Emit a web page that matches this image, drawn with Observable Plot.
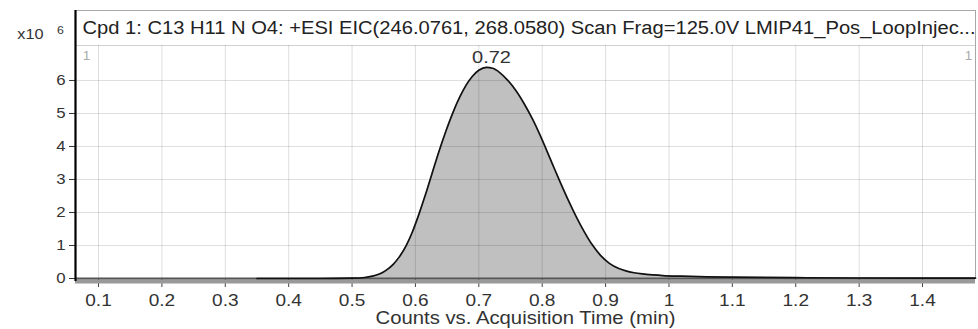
<!DOCTYPE html>
<html>
<head>
<meta charset="utf-8">
<script src="https://cdn.jsdelivr.net/npm/d3@7"></script>
<script src="https://cdn.jsdelivr.net/npm/@observablehq/plot@0.6"></script>
<style>
  html, body { margin: 0; padding: 0; background: #fff; }
  #chart svg { display: block; }
</style>
</head>
<body>
<div id="chart"></div>
<script>
// Acquisition time (min)
const times = [0.35, 0.45, 0.50, 0.52, 0.532, 0.545, 0.553, 0.565, 0.574, 0.585, 0.595, 0.605, 0.616, 0.626, 0.637, 0.648, 0.659, 0.670, 0.680, 0.690, 0.700, 0.712, 0.722, 0.733, 0.745, 0.759, 0.772, 0.785, 0.797, 0.806, 0.817, 0.827, 0.840, 0.853, 0.866, 0.879, 0.892, 0.906, 0.920, 0.932, 0.945, 0.958, 0.975, 0.99, 1.02, 1.06, 1.10, 1.20, 1.30, 1.40, 1.4836];
// Counts (x10^6)
const counts = [0, 0.0, 0.01, 0.03, 0.07, 0.15, 0.24, 0.43, 0.64, 0.98, 1.40, 1.92, 2.55, 3.17, 3.84, 4.46, 5.02, 5.50, 5.86, 6.13, 6.31, 6.40, 6.37, 6.24, 6.02, 5.68, 5.28, 4.82, 4.33, 3.93, 3.43, 2.98, 2.42, 1.90, 1.43, 1.02, 0.70, 0.46, 0.31, 0.23, 0.175, 0.14, 0.11, 0.09, 0.07, 0.05, 0.04, 0.025, 0.015, 0.01, 0.01];

const xTicks = [0.1, 0.2, 0.3, 0.4, 0.5, 0.6, 0.7, 0.8, 0.9, 1.0, 1.1, 1.2, 1.3, 1.4];
const xTickLabels = ["0.1", "0.2", "0.3", "0.4", "0.5", "0.6", "0.7", "0.8", "0.9", "1", "1.1", "1.2", "1.3", "1.4"];
const yTicks = [0, 1, 2, 3, 4, 5, 6];
const yTickLabels = ["0", "1", "2", "3", "4", "5", "6"];

const titleText = "Cpd 1: C13 H11 N O4: +ESI EIC(246.0761, 268.0580) Scan Frag=125.0V LMIP41_Pos_LoopInjec...";
const xLabel = "Counts vs. Acquisition Time (min)";
const peakLabels = [{t: 0.72, v: 6.40, label: "0.72"}];
const cornerMarks = ["1"];

const xDomain = [0.0637, 1.4836];
const yDomain = [0, 7.06];

const data = times.map((t, i) => ({t, v: counts[i]}));
const font = "'Liberation Sans', Arial, sans-serif";

const chart = Plot.plot({
  width: 978,
  height: 329,
  marginLeft: 75,
  marginRight: 3,
  marginTop: 45,
  marginBottom: 51,
  style: {fontFamily: font, fontSize: "15px", background: "#fff", color: "#333"},
  x: {domain: xDomain, label: null, axis: null},
  y: {domain: yDomain, label: null, axis: null},
  marks: [
    Plot.frame({stroke: "#a8a8a8", insetTop: -35}),
    Plot.ruleY([yDomain[1]], {stroke: "#d0d0d0"}),
    Plot.areaY(data, {x: "t", y: "v", fill: "#c0c0c0", curve: "monotone-x"}),
    Plot.ruleX(xTicks, {stroke: "#000", strokeOpacity: 0.13}),
    Plot.ruleY(yTicks.slice(1), {stroke: "#000", strokeOpacity: 0.13}),
    // tick marks
    Plot.ruleX(xTicks, {y1: 0, y2: 0, insetBottom: -9, stroke: "#444"}),
    Plot.ruleY(yTicks, {x1: xDomain[0], x2: xDomain[0], insetLeft: -6, stroke: "#333"}),
    // tick labels
    Plot.text(xTicks, {x: d => d, y: 0, text: (d, i) => xTickLabels[i], lineAnchor: "middle", dy: 22, fill: "#333", fontSize: 17}),
    Plot.text(yTicks, {x: xDomain[0], y: d => d, text: (d, i) => yTickLabels[i], textAnchor: "end", lineAnchor: "middle", dx: -10, fill: "#333", fontSize: 15}),
    Plot.ruleY([0], {stroke: "#999", strokeWidth: 4, dy: 3}),
    Plot.ruleY([0], {stroke: "#555", strokeWidth: 2}),
    Plot.lineY(data, {x: "t", y: "v", stroke: "#111", strokeWidth: 1.7, curve: "monotone-x"}),
    Plot.ruleX([xDomain[0]], {stroke: "#000", strokeWidth: 2.2, insetTop: -35, insetBottom: -3}),
    Plot.text(peakLabels, {x: "t", y: "v", text: "label", lineAnchor: "middle", dy: -10, fill: "#333", fontSize: 16.5}),
    Plot.text([titleText], {frameAnchor: "top-left", textAnchor: "start", lineAnchor: "middle", dx: 7, dy: -17, fill: "#222", fontSize: 18}),
    Plot.text(["x10"], {frameAnchor: "top-left", textAnchor: "end", lineAnchor: "middle", dx: -32, dy: -11, fill: "#333", fontSize: 14.5}),
    Plot.text(["6"], {frameAnchor: "top-left", textAnchor: "middle", lineAnchor: "middle", dx: -15, dy: -15, fill: "#333", fontSize: 11}),
    Plot.text(cornerMarks, {frameAnchor: "top-left", textAnchor: "middle", lineAnchor: "middle", dx: 11, dy: 11, fill: "#aaa", fontSize: 12}),
    Plot.text(cornerMarks, {frameAnchor: "top-right", textAnchor: "middle", lineAnchor: "middle", dx: -7, dy: 11, fill: "#aaa", fontSize: 12}),
    Plot.text([xLabel], {frameAnchor: "bottom", lineAnchor: "middle", dy: 40, fill: "#333", fontSize: 18})
  ]
});
document.getElementById("chart").appendChild(chart);

// The reference's lettering is slightly wide: stretch text horizontally.
d3.select(chart).selectAll("text").each(function () {
  const s = this.textContent;
  const w = this.getComputedTextLength();
  let target = w * 1.12;
  if (s === titleText) target = 893;
  else if (s === xLabel) target = 300;
  else if (s === "0.72") target = 39;
  this.setAttribute("textLength", target);
  this.setAttribute("lengthAdjust", "spacingAndGlyphs");
});
</script>
</body>
</html>
